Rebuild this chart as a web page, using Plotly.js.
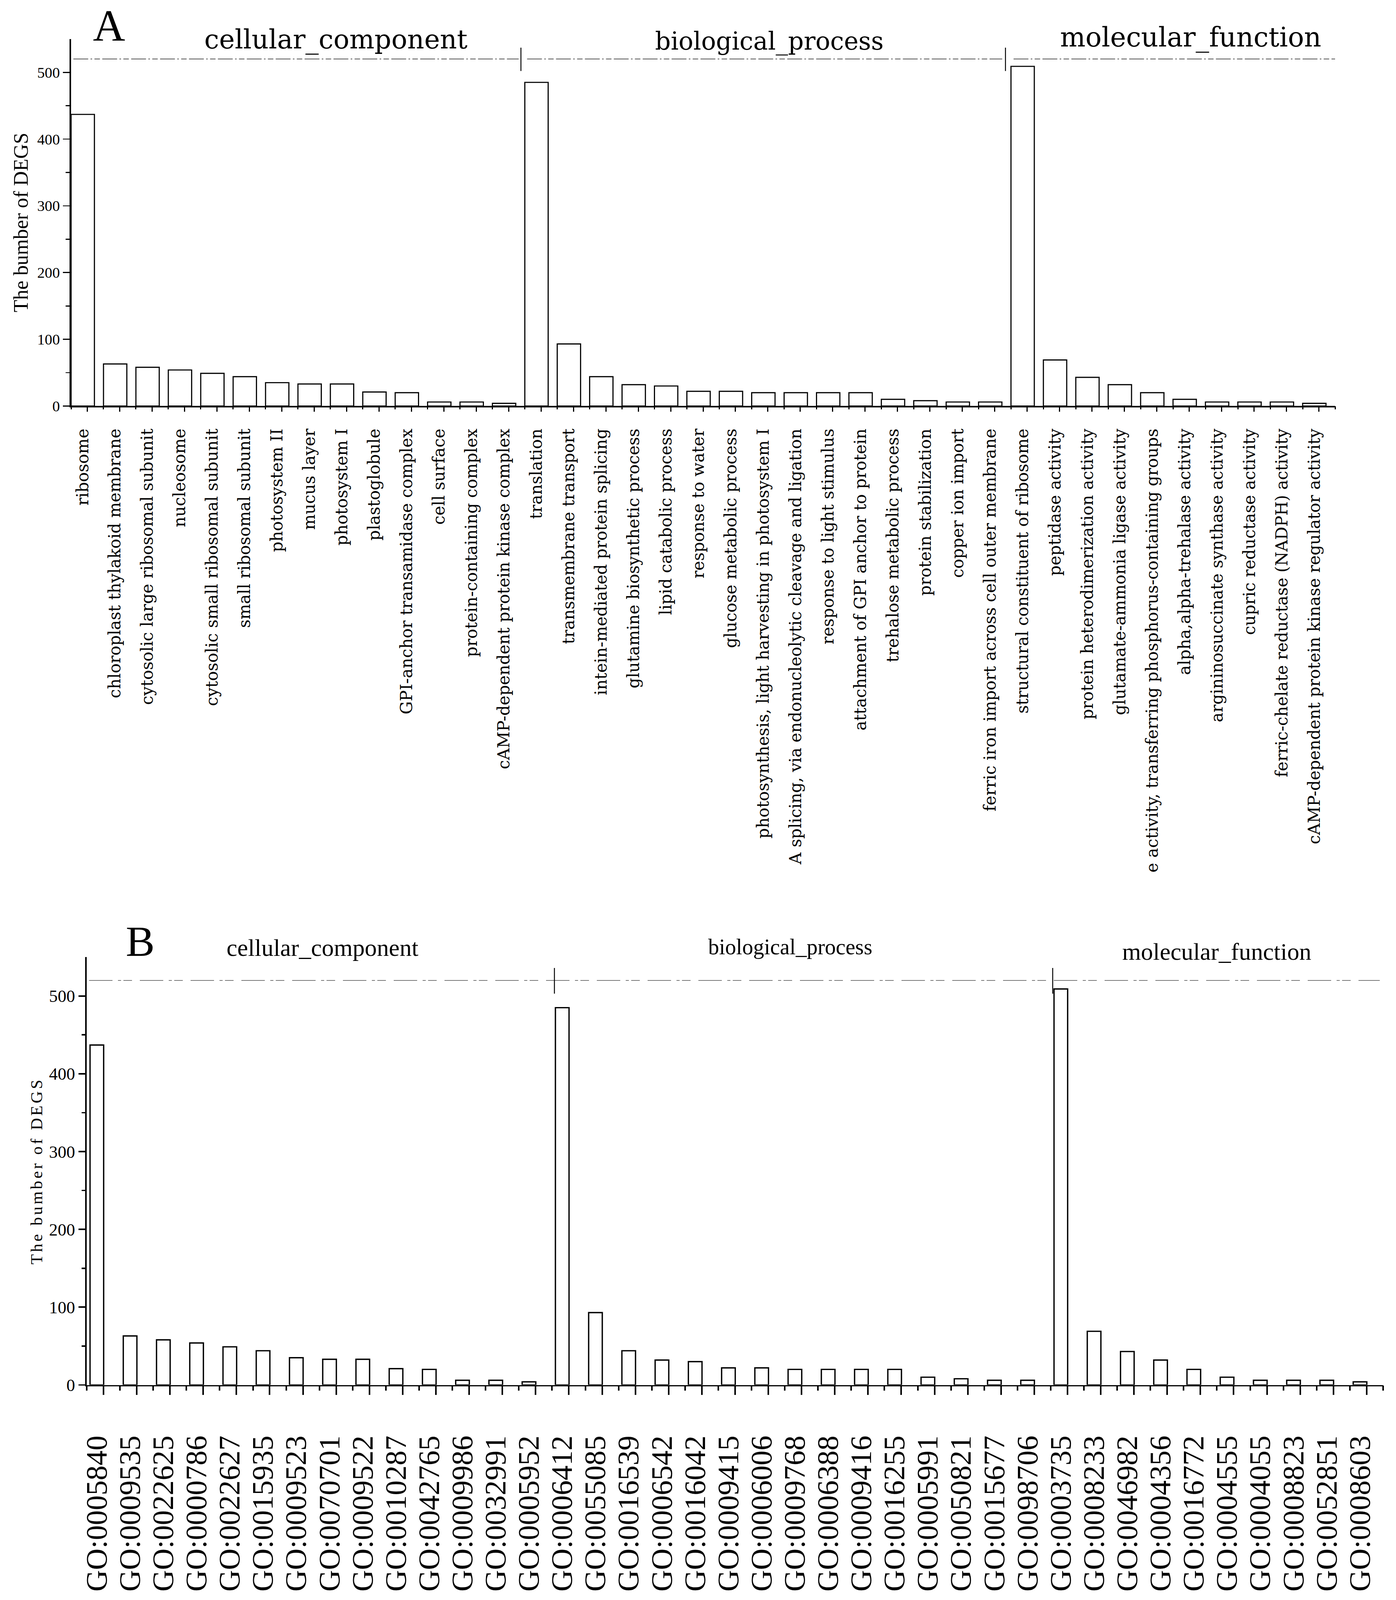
<!DOCTYPE html>
<html>
<head>
<meta charset="utf-8">
<script src="https://cdn.plot.ly/plotly-3.0.1.min.js"></script>
<style>
html,body{margin:0;padding:0;background:#fff;overflow:hidden;}
#chart{position:absolute;left:0;top:0;}
</style>
</head>
<body>
<div id="chart"></div>
<script>
// ---------------- data ----------------
const groupNames = ['cellular_component', 'biological_process', 'molecular_function'];

const ccTerms = ['ribosome', 'chloroplast thylakoid membrane', 'cytosolic large ribosomal subunit', 'nucleosome',
  'cytosolic small ribosomal subunit', 'small ribosomal subunit', 'photosystem II', 'mucus layer', 'photosystem I',
  'plastoglobule', 'GPI-anchor transamidase complex', 'cell surface', 'protein-containing complex',
  'cAMP-dependent protein kinase complex'];
const bpTerms = ['translation', 'transmembrane transport', 'intein-mediated protein splicing',
  'glutamine biosynthetic process', 'lipid catabolic process', 'response to water', 'glucose metabolic process',
  'photosynthesis, light harvesting in photosystem I', 'A splicing, via endonucleolytic cleavage and ligation',
  'response to light stimulus', 'attachment of GPI anchor to protein', 'trehalose metabolic process',
  'protein stabilization', 'copper ion import', 'ferric iron import across cell outer membrane'];
const mfTerms = ['structural constituent of ribosome', 'peptidase activity', 'protein heterodimerization activity',
  'glutamate-ammonia ligase activity', 'e activity, transferring phosphorus-containing groups',
  'alpha,alpha-trehalase activity', 'argininosuccinate synthase activity', 'cupric reductase activity',
  'ferric-chelate reductase (NADPH) activity', 'cAMP-dependent protein kinase regulator activity'];

const ccIds = ['GO:0005840', 'GO:0009535', 'GO:0022625', 'GO:0000786', 'GO:0022627', 'GO:0015935', 'GO:0009523',
  'GO:0070701', 'GO:0009522', 'GO:0010287', 'GO:0042765', 'GO:0009986', 'GO:0032991', 'GO:0005952'];
const bpIds = ['GO:0006412', 'GO:0055085', 'GO:0016539', 'GO:0006542', 'GO:0016042', 'GO:0009415', 'GO:0006006',
  'GO:0009768', 'GO:0006388', 'GO:0009416', 'GO:0016255', 'GO:0005991', 'GO:0050821', 'GO:0015677', 'GO:0098706'];
const mfIds = ['GO:0003735', 'GO:0008233', 'GO:0046982', 'GO:0004356', 'GO:0016772', 'GO:0004555', 'GO:0004055',
  'GO:0008823', 'GO:0052851', 'GO:0008603'];

const ccCounts = [437, 63, 58, 54, 49, 44, 35, 33, 33, 21, 20, 6, 6, 4];
const bpCounts = [485, 93, 44, 32, 30, 22, 22, 20, 20, 20, 20, 10, 8, 6, 6];
const mfCounts = [509, 69, 43, 32, 20, 10, 6, 6, 6, 4];

const yTickVals = [0, 100, 200, 300, 400, 500];
const yMinorTickVals = [50, 150, 250, 350, 450];
const groupLineLevel = 520;
const yTitleA = 'The bumber of DEGS';
const yTitleB = 'The bumber of DEGS';

// ---------------- frame (reference is 3574 x 4390) ----------------
const RW = 3574, RH = 4390;
const W = window.innerWidth || RW;
const H = window.innerHeight || RH;
const sx = W / RW, sy = H / RH, sm = (sx + sy) / 2;
const chartDiv = document.getElementById('chart');
chartDiv.style.width = W + 'px';
chartDiv.style.height = H + 'px';

// spaced lettering of the panel-B axis title
const st = document.createElement('style');
st.textContent = '.g-y2title text{letter-spacing:' + (6 * sy).toFixed(1) + 'px;}';
document.head.appendChild(st);

// ---------------- derived ----------------
const terms = ccTerms.concat(bpTerms, mfTerms);
const ids = ccIds.concat(bpIds, mfIds);
const counts = ccCounts.concat(bpCounts, mfCounts);
const N = counts.length;
const groupSizes = [ccCounts.length, bpCounts.length, mfCounts.length];
const bounds = [0];
groupSizes.forEach(s => bounds.push(bounds[bounds.length - 1] + s));

const idx = counts.map((_, i) => i);
const xA = idx.map(i => i + 0.36);
const xB = idx.map(i => i + 0.305);
const midTicksA = idx.map(i => i + 0.5);
const midTicksB = idx.map(i => i + 0.505);
const edgeTicks = idx.concat([N]);

const sepA = [bounds[1] - 0.12, bounds[2] - 0.17];
const sepB = [bounds[1] + 0.07, bounds[2] + 0.06];
const lineAx = [0.07, sepA[0] - 0.07, null, sepA[0] + 0.19, sepA[1] - 0.1, null, sepA[1] + 0.25, N + 0.16];
const lineAy = lineAx.map(v => v === null ? null : groupLineLevel);
const lineBx = [0.07, N - 0.1];
const lineBy = [groupLineLevel, groupLineLevel];
function sepTrace(seps, lo, hi, xa, ya) {
  const xs = [], ys = [];
  seps.forEach(s => { xs.push(s, s, null); ys.push(lo, hi, null); });
  return {type: 'scatter', mode: 'lines', x: xs, y: ys, xaxis: xa, yaxis: ya, cliponaxis: false,
    line: {color: 'black', width: 2.5 * sm}, hoverinfo: 'skip', showlegend: false};
}

const traces = [
  {type: 'bar', x: xA, y: counts, width: 0.72, xaxis: 'x', yaxis: 'y',
   marker: {color: 'white', line: {color: 'black', width: 3 * sm}}, showlegend: false},
  {type: 'bar', x: xB, y: counts, width: 0.41, xaxis: 'x2', yaxis: 'y2',
   marker: {color: 'white', line: {color: 'black', width: 3.5 * sm}}, showlegend: false},
  {type: 'scatter', mode: 'lines', x: lineAx, y: lineAy, xaxis: 'x3', yaxis: 'y', connectgaps: false, cliponaxis: false,
   line: {color: '#555', width: 2 * sm, dash: '38px,6px,4px,6px,14px,6px'}, hoverinfo: 'skip', showlegend: false},
  sepTrace(sepA, 502, 537, 'x3', 'y'),
  {type: 'scatter', mode: 'lines', x: lineBx, y: lineBy, xaxis: 'x4', yaxis: 'y2', cliponaxis: false,
   line: {color: '#666', width: 2 * sm, dash: '60px,14px,8px,6px,22px,20px'}, hoverinfo: 'skip', showlegend: false},
  sepTrace(sepB, 503, 536, 'x4', 'y2')
];

const domA = [182 / RW, 3418 / RW];
const domAy = [1 - 1114 / RH, 1 - 107 / RH];
const domB = [222 / RW, 3541 / RW];
const domBy = [1 - 3800 / RH, 1 - 2626 / RH];

const baseX = {range: [0, N], showgrid: false, zeroline: false, fixedrange: true, automargin: false};

function ann(text, xref, x, yPix, size, family) {
  return {text: text, xref: xref, yref: 'paper', x: x, y: 1 - yPix / RH, xanchor: 'center', yanchor: 'middle',
    showarrow: false, font: {family: family, size: size * sm, color: 'black'}};
}

const layout = {
  width: W, height: H,
  margin: {l: 0, r: 0, t: 0, b: 0},
  paper_bgcolor: 'white', plot_bgcolor: 'rgba(0,0,0,0)',
  showlegend: false,
  font: {family: 'Liberation Serif', color: 'black'},
  // panel A: category labels (transparent ticks only set the label offset)
  xaxis: Object.assign({}, baseX, {
    domain: domA, anchor: 'y', tickmode: 'array', tickvals: xA, ticktext: terms, tickangle: -90,
    ticks: 'outside', ticklen: 40 * sy, tickcolor: 'rgba(0,0,0,0)', tickwidth: 1,
    showline: true, linecolor: 'black', linewidth: 4 * sy,
    tickfont: {family: 'DejaVu Serif', size: 45 * sy, color: 'black'}}),
  // panel A: visible tick marks
  xaxis3: Object.assign({}, baseX, {
    overlaying: 'x', anchor: 'y', tickmode: 'array', tickvals: midTicksA, ticks: 'outside', ticklen: 15 * sy,
    tickwidth: 3 * sx, tickcolor: 'black', showticklabels: false, showline: false,
    minor: {tickmode: 'array', tickvals: edgeTicks, ticks: 'outside', ticklen: 8 * sy, tickwidth: 3 * sx, tickcolor: 'black', showgrid: false}}),
  yaxis: {
    domain: domAy, anchor: 'x', range: [0, 550], tickmode: 'array', tickvals: yTickVals,
    ticks: 'outside', ticklen: 17 * sx, tickwidth: 3 * sy, tickcolor: 'black', showline: true, linecolor: 'black', linewidth: 4 * sx,
    showgrid: false, zeroline: false, fixedrange: true, automargin: false,
    tickfont: {family: 'Liberation Serif', size: 40 * sm, color: 'black'},
    minor: {tickmode: 'array', tickvals: yMinorTickVals, ticks: 'outside', ticklen: 10 * sx, tickwidth: 3 * sy, tickcolor: 'black', showgrid: false},
    title: {text: yTitleA, font: {family: 'Liberation Serif', size: 56 * sy, color: 'black'}, standoff: 8 * sx}},
  // panel B: GO id labels
  xaxis2: Object.assign({}, baseX, {
    domain: domB, anchor: 'y2', tickmode: 'array', tickvals: xB, ticktext: ids, tickangle: -90,
    ticks: 'outside', ticklen: 102 * sy, tickcolor: 'rgba(0,0,0,0)', tickwidth: 1,
    showline: true, linecolor: 'black', linewidth: 4 * sy,
    tickfont: {family: 'Liberation Serif', size: 82 * sy, color: 'black'}}),
  // panel B: visible tick marks
  xaxis4: Object.assign({}, baseX, {
    overlaying: 'x2', anchor: 'y2', tickmode: 'array', tickvals: midTicksB, ticks: 'outside', ticklen: 26 * sy,
    tickwidth: 4 * sx, tickcolor: 'black', showticklabels: false, showline: false,
    minor: {tickmode: 'array', tickvals: edgeTicks, ticks: 'outside', ticklen: 14 * sy, tickwidth: 4 * sx, tickcolor: 'black', showgrid: false}}),
  yaxis2: {
    domain: domBy, anchor: 'x2', range: [0, 550], tickmode: 'array', tickvals: yTickVals,
    ticks: 'outside', ticklen: 17 * sx, tickwidth: 4 * sy, tickcolor: 'black', showline: true, linecolor: 'black', linewidth: 4 * sx,
    showgrid: false, zeroline: false, fixedrange: true, automargin: false,
    tickfont: {family: 'Liberation Serif', size: 46 * sm, color: 'black'},
    minor: {tickmode: 'array', tickvals: yMinorTickVals, ticks: 'outside', ticklen: 9 * sx, tickwidth: 4 * sy, tickcolor: 'black', showgrid: false},
    title: {text: yTitleB, font: {family: 'Liberation Serif', size: 46 * sy, color: 'black'}, standoff: 4 * sx}},
  annotations: [
    {text: 'A', xref: 'paper', yref: 'paper', x: 279 / RW, y: 1, xanchor: 'center', yanchor: 'top',
     showarrow: false, font: {family: 'Liberation Serif', size: 118 * sm, color: 'black'}},
    ann(groupNames[0], 'x', 8.17, 108, 70, 'DejaVu Serif'),
    ann(groupNames[1], 'x', 21.54, 113, 65, 'DejaVu Serif'),
    ann(groupNames[2], 'x', 34.55, 102, 71, 'DejaVu Serif'),
    {text: 'B', xref: 'paper', yref: 'paper', x: 359 / RW, y: 1 - 2582 / RH, xanchor: 'center', yanchor: 'middle',
     showarrow: false, font: {family: 'Liberation Serif', size: 115 * sm, color: 'black'}},
    ann(groupNames[0], 'x2', 7.09, 2600, 64, 'Liberation Serif'),
    ann(groupNames[1], 'x2', 21.16, 2598, 58, 'Liberation Serif'),
    ann(groupNames[2], 'x2', 34.0, 2611, 64, 'Liberation Serif')
  ]
};

Plotly.newPlot('chart', traces, layout, {staticPlot: true, displayModeBar: false});
</script>
</body>
</html>
